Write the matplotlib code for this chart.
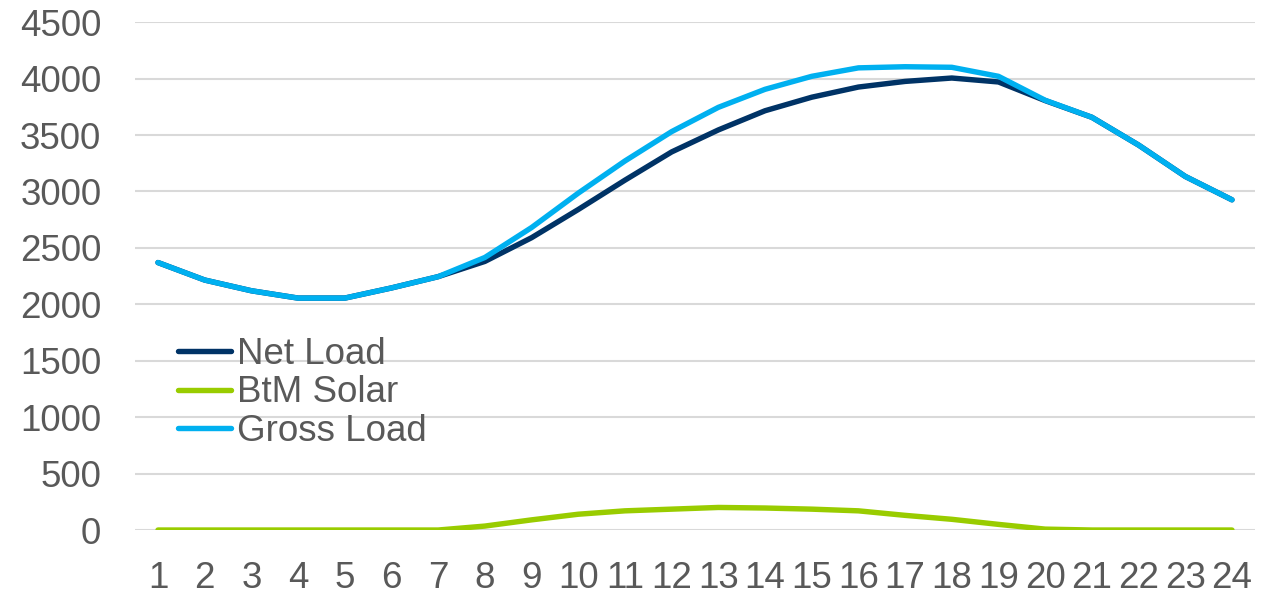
import matplotlib
matplotlib.use("Agg")
import matplotlib.pyplot as plt

hours = list(range(1, 25))
net_load = [2370, 2215, 2120, 2055, 2055, 2145, 2245, 2380, 2590, 2840, 3100, 3350,
            3545, 3715, 3835, 3925, 3975, 4005, 3970, 3805, 3657, 3411, 3133, 2926]
btm_solar = [0, 0, 0, 0, 0, 0, 0, 35, 90, 140, 170, 185,
             200, 195, 185, 170, 130, 95, 50, 8, 0, 0, 0, 0]
gross_load = [2370, 2215, 2120, 2055, 2055, 2145, 2245, 2415, 2680, 2985, 3270, 3530,
              3745, 3905, 4020, 4095, 4105, 4100, 4020, 3808, 3657, 3411, 3133, 2926]
y_ticks = list(range(0, 4501, 500))

plt.rcParams["font.family"] = ["Liberation Sans", "DejaVu Sans"]
text_color = "#595959"
font_size = 26.5

fig = plt.figure(figsize=(12.62, 5.94), dpi=100)
ax = fig.add_axes([0.1067, 0.1077, 0.888, 0.855])

lw = 3.9
ax.plot(hours, net_load, color="#003366", lw=lw, label="Net Load", solid_capstyle="round", zorder=3)
ax.plot(hours, btm_solar, color="#99CC00", lw=lw, label="BtM Solar", solid_capstyle="round", zorder=3)
ax.plot(hours, gross_load, color="#00B0F0", lw=lw, label="Gross Load", solid_capstyle="round", zorder=4)

ax.set_xlim(0.5, 24.5)
ax.set_ylim(0, 4500)
ax.set_xticks(hours)
ax.set_yticks(y_ticks)
ax.yaxis.grid(True, color="#D9D9D9", lw=1.5)
ax.set_axisbelow(True)
for s in ax.spines.values():
    s.set_visible(False)
ax.tick_params(axis="both", length=0, labelsize=font_size, colors=text_color)
ax.tick_params(axis="y", pad=24)
ax.tick_params(axis="x", pad=22)

leg = ax.legend(loc="upper left", bbox_to_anchor=(0.141, 0.433), bbox_transform=fig.transFigure,
                frameon=False, fontsize=font_size, handlelength=1.45, handletextpad=0.15,
                labelspacing=0.1, borderpad=0, borderaxespad=0)
for t in leg.get_texts():
    t.set_color(text_color)

fig.savefig("out.png", dpi=100, facecolor="white")
